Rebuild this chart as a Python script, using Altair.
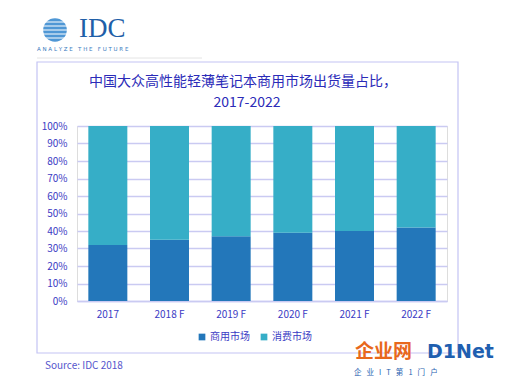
import altair as alt
import pandas as pd

years = ["2017", "2018 F", "2019 F", "2020 F", "2021 F", "2022 F"]
business = [32, 35, 37, 39, 40, 42]
consumer = [100 - v for v in business]
series = ["商用市场", "消费市场"]
colors = ["#2377BA", "#36AEC7"]
title_lines = ["中国大众高性能轻薄笔记本商用市场出货量占比，", "2017-2022"]
source_text = "Source: IDC 2018"

rows = []
for i, y in enumerate(years):
    rows.append({"year": y, "series": series[0], "value": business[i], "ord": 0})
    rows.append({"year": y, "series": series[1], "value": consumer[i], "ord": 1})
df = pd.DataFrame(rows)

FONT = "Noto Sans CJK SC"
TXT = "#3B3BC4"
GRID = "#CACAF2"
NB = "\u00a0"

W, H = 370, 175

frame = alt.Chart(pd.DataFrame({"a": [0]})).mark_rect(
    filled=False, stroke="#C4C4F4", strokeWidth=1.2
).encode(x=alt.value(-40), x2=alt.value(381), y=alt.value(-64), y2=alt.value(227))

bars = alt.Chart(df).mark_bar(size=39, stroke=None).encode(
    x=alt.X("year:N", sort=years, title=None,
            axis=alt.Axis(labelAngle=0, ticks=False, domainColor=GRID, domainWidth=1.5,
                          labelColor=TXT, labelFont=FONT, labelFontSize=10, labelPadding=8)),
    y=alt.Y("value:Q", stack="zero", title=None,
            scale=alt.Scale(domain=[0, 100]),
            axis=alt.Axis(values=list(range(0, 101, 10)), labelExpr="datum.value + '%'",
                          domain=False, ticks=False, gridColor=GRID, gridWidth=1.5,
                          labelColor=TXT, labelFont=FONT, labelFontSize=10, labelPadding=10)),
    color=alt.Color("series:N", scale=alt.Scale(domain=series, range=colors),
                    legend=alt.Legend(title=None, orient="none", direction="horizontal",
                                      legendX=120, legendY=206, symbolType="square",
                                      symbolSize=45, labelFont=FONT, labelFontSize=10,
                                      labelColor=TXT, columnPadding=9, symbolOffset=0,
                                      labelOffset=3)),
    order=alt.Order("ord:Q"),
)

t1 = alt.Chart(pd.DataFrame({"t": [title_lines[0]]})).mark_text(
    font=FONT, fontSize=14, color="#2B2BB8", align="center", baseline="middle"
).encode(x=alt.value(166), y=alt.value(-44), text="t:N")
t2 = alt.Chart(pd.DataFrame({"t": [title_lines[1]]})).mark_text(
    font=FONT, fontSize=14, color="#2B2BB8", align="center", baseline="middle"
).encode(x=alt.value(170), y=alt.value(-23), text="t:N")
src = alt.Chart(pd.DataFrame({"t": [source_text]})).mark_text(
    font=FONT, fontSize=10, color="#5555CC", align="left", baseline="middle"
).encode(x=alt.value(-32), y=alt.value(240), text="t:N")

logo = alt.Chart(pd.DataFrame({"t": ["IDC"]})).mark_text(
    font="Liberation Serif", fontSize=27, color="#1F5FA8", align="left", baseline="middle"
).encode(x=alt.value(2), y=alt.value(-97), text="t:N")
tag = alt.Chart(pd.DataFrame({"t": [NB.join("ANALYZE") + NB * 3 + NB.join("THE") + NB * 3 + NB.join("FUTURE")]})).mark_text(
    font="DejaVu Sans", fontSize=5.5, color="#3A7CC0", align="left", baseline="middle"
).encode(x=alt.value(-40), y=alt.value(-77), text="t:N")
globe = alt.Chart(pd.DataFrame({"a": [0]})).mark_point(
    shape="circle", filled=True, size=560, color="#3C8CD0", opacity=0.9
).encode(x=alt.value(-22), y=alt.value(-96))
stripe_layers = [
    alt.Chart(pd.DataFrame({"a": [0]})).mark_rule(color="white", strokeWidth=1).encode(
        x=alt.value(-42), x2=alt.value(-4), y=alt.value(v))
    for v in [-104, -100, -96, -92, -88]
]
sep = alt.Chart(pd.DataFrame({"a": [0]})).mark_rule(color="#E4E4E4").encode(
    x=alt.value(-40), x2=alt.value(125), y=alt.value(-68))

wm1 = alt.Chart(pd.DataFrame({"t": ["企业网"]})).mark_text(
    font=FONT, fontSize=19, fontWeight="bold", color="#E8681C", align="left", baseline="middle"
).encode(x=alt.value(278), y=alt.value(226), text="t:N")
wm2 = alt.Chart(pd.DataFrame({"t": ["D1Net"]})).mark_text(
    font="DejaVu Sans", fontSize=19, fontWeight="bold", color="#1F5FB0", align="left", baseline="middle"
).encode(x=alt.value(350), y=alt.value(226), text="t:N")
wm3 = alt.Chart(pd.DataFrame({"t": [(NB * 3).join(["企", "业", "I", "T", "第", "1", "门", "户"])]})).mark_text(
    font=FONT, fontSize=7.5, color="#1F5FB0", align="left", baseline="middle"
).encode(x=alt.value(277), y=alt.value(247), text="t:N")

chart = alt.layer(frame, bars, t1, t2, src, globe, *stripe_layers, logo, tag, sep, wm1, wm2, wm3).properties(
    width=W, height=H,
    autosize=alt.AutoSizeParams(type="none"),
    padding={"left": 69, "top": 118, "right": 55, "bottom": 77},
).configure_view(stroke=None).configure(background="white")

chart.save("out.html", embed_options={"renderer": "svg", "actions": False})
